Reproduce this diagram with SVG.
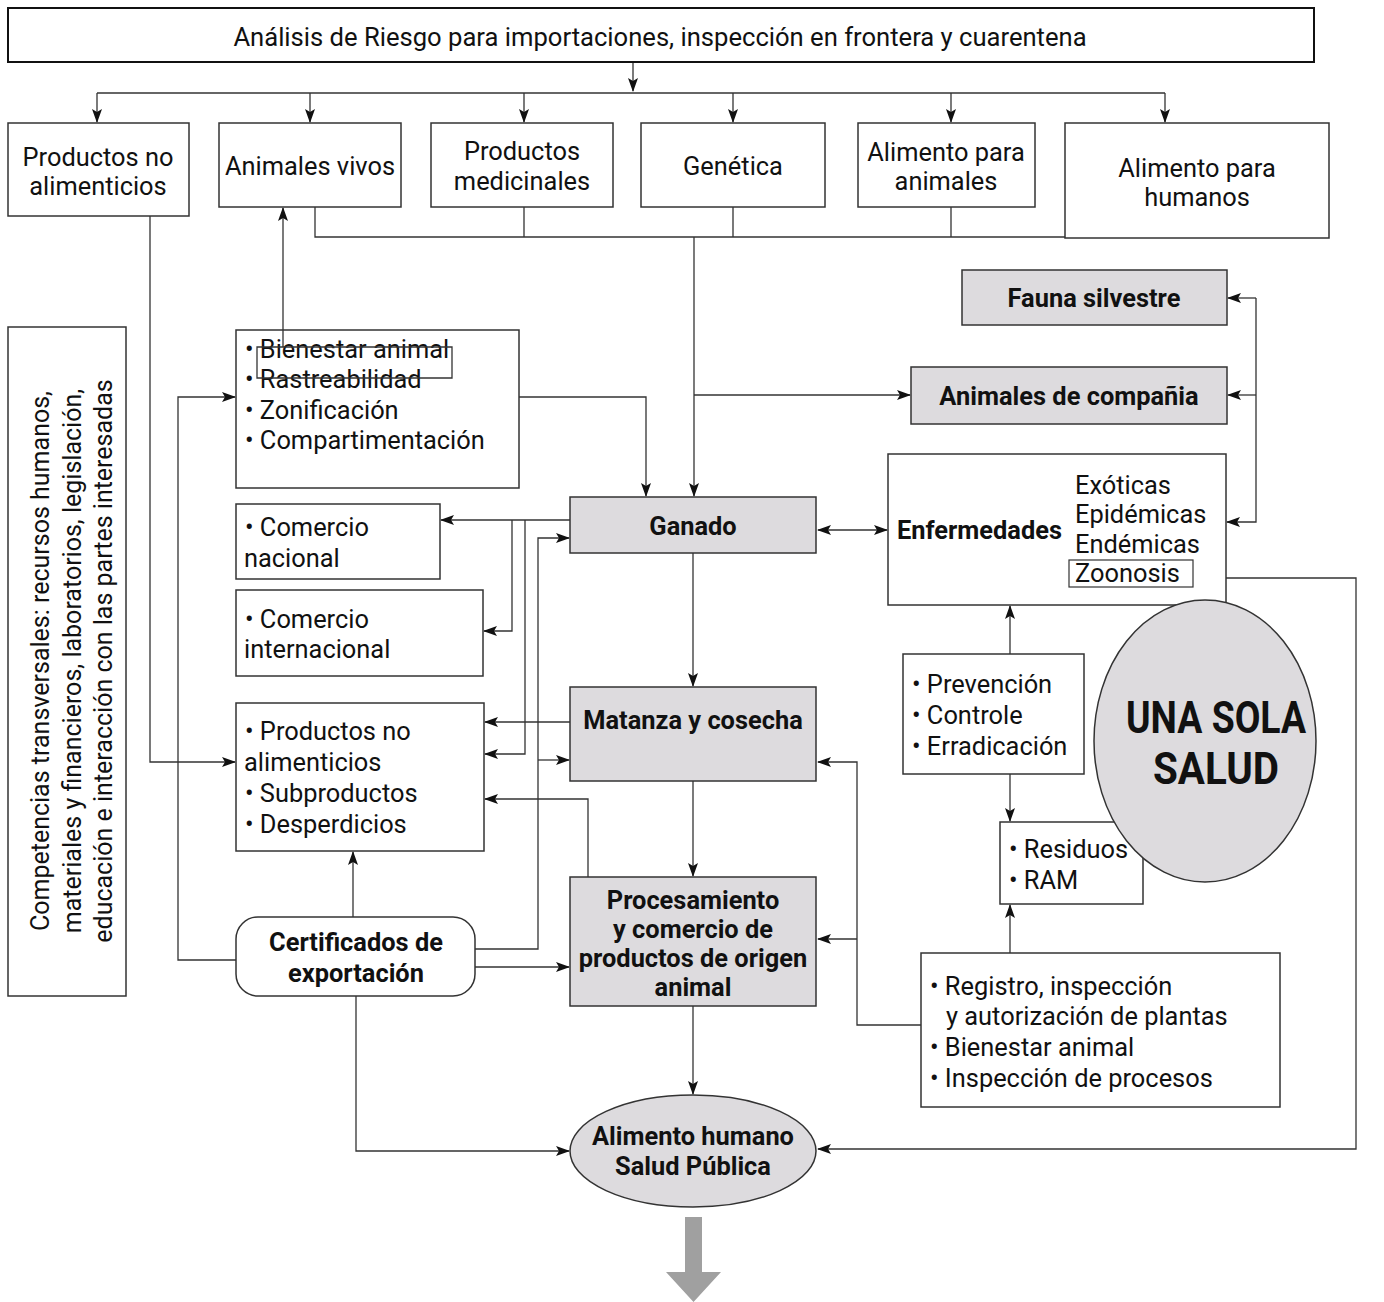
<svg xmlns="http://www.w3.org/2000/svg" width="1384" height="1302" viewBox="0 0 1384 1302">
<style>
.box{fill:#fff;stroke:#333;stroke-width:1.5}
.gbox{fill:#dddbde;stroke:#333;stroke-width:1.5}
.t{font-family:Roboto,"Liberation Sans",sans-serif;font-size:25.4px;fill:#111}
.b{font-weight:bold}
.c{text-anchor:middle}
.ln{fill:none;stroke:#333;stroke-width:1.3}
</style>
<defs>
<marker id="a" markerWidth="14" markerHeight="10" refX="13" refY="5" orient="auto-start-reverse" markerUnits="userSpaceOnUse">
<path d="M0,0 L14,5 L0,10 L3,5 z" fill="#111"/>
</marker>
</defs>
<rect width="1384" height="1302" fill="#fff"/>

<g id="connectors">
<path class="ln" d="M633,62 V91" marker-end="url(#a)"/>
<path class="ln" d="M97,93 H1165"/>
<path class="ln" d="M97,93 V122" marker-end="url(#a)"/>
<path class="ln" d="M310,93 V122" marker-end="url(#a)"/>
<path class="ln" d="M524,93 V122" marker-end="url(#a)"/>
<path class="ln" d="M733,93 V122" marker-end="url(#a)"/>
<path class="ln" d="M951,93 V122" marker-end="url(#a)"/>
<path class="ln" d="M1165,93 V122" marker-end="url(#a)"/>
<path class="ln" d="M315,207 V237 H1065 M524,207 V237 M733,207 V237 M951,207 V237"/>
<path class="ln" d="M694,237 V496" marker-end="url(#a)"/>
<path class="ln" d="M694,395 H910" marker-end="url(#a)"/>
<path class="ln" d="M150,216 V762 H235" marker-end="url(#a)"/>
<path class="ln" d="M283,347 V208" marker-end="url(#a)"/>
<path class="ln" d="M519,397 H646 V496" marker-end="url(#a)"/>
<path class="ln" d="M236,960 H178 V397 H235" marker-end="url(#a)"/>
<path class="ln" d="M570,520 H441" marker-end="url(#a)"/>
<path class="ln" d="M512,520 V631 H484" marker-end="url(#a)"/>
<path class="ln" d="M525,520 V754 H485" marker-end="url(#a)"/>
<path class="ln" d="M570,722 H485" marker-end="url(#a)"/>
<path class="ln" d="M588,877 V799 H485" marker-end="url(#a)"/>
<path class="ln" d="M475,949 H538 V538 H569" marker-end="url(#a)"/>
<path class="ln" d="M538,760 H569" marker-end="url(#a)"/>
<path class="ln" d="M353,917 V852" marker-end="url(#a)"/>
<path class="ln" d="M475,967 H569" marker-end="url(#a)"/>
<path class="ln" d="M356,996 V1151 H569" marker-end="url(#a)"/>
<path class="ln" d="M693,553 V686" marker-end="url(#a)"/>
<path class="ln" d="M693,781 V876" marker-end="url(#a)"/>
<path class="ln" d="M693,1006 V1094" marker-end="url(#a)"/>
<path class="ln" d="M818,530 H887" marker-start="url(#a)" marker-end="url(#a)"/>
<path class="ln" d="M1256,298 V522 H1227" marker-end="url(#a)"/>
<path class="ln" d="M1256,298 H1228" marker-end="url(#a)"/>
<path class="ln" d="M1256,395 H1228" marker-end="url(#a)"/>
<path class="ln" d="M1193,578 H1356 V1149 H818" marker-end="url(#a)"/>
<path class="ln" d="M1010,654 V606" marker-end="url(#a)"/>
<path class="ln" d="M1010,774 V821" marker-end="url(#a)"/>
<path class="ln" d="M1010,953 V905" marker-end="url(#a)"/>
<path class="ln" d="M921,1025 H857 V762 H818" marker-end="url(#a)"/>
<path class="ln" d="M857,939 H818" marker-end="url(#a)"/>
</g>

<g id="n-top"><rect x="8" y="8" width="1306" height="54" fill="#fff" stroke="#111" stroke-width="2"/>
<text class="t c" x="660" y="46" style="font-size:25.6px">Análisis de Riesgo para importaciones, inspección en frontera y cuarentena</text></g>

<g id="n-pna"><rect class="box" x="8" y="123" width="181" height="93"/>
<text class="t c" x="98" y="166">Productos no</text><text class="t c" x="98" y="195">alimenticios</text></g>
<g id="n-av"><rect class="box" x="219" y="123" width="182" height="84"/>
<text class="t c" x="310" y="175">Animales vivos</text></g>
<g id="n-pm"><rect class="box" x="431" y="123" width="182" height="84"/>
<text class="t c" x="522" y="160">Productos</text><text class="t c" x="522" y="190">medicinales</text></g>
<g id="n-gen"><rect class="box" x="641" y="123" width="184" height="84"/>
<text class="t c" x="733" y="175">Genética</text></g>
<g id="n-aa"><rect class="box" x="858" y="123" width="177" height="84"/>
<text class="t c" x="946" y="161">Alimento para</text><text class="t c" x="946" y="190">animales</text></g>
<g id="n-ah"><rect class="box" x="1065" y="123" width="264" height="115"/>
<text class="t c" x="1197" y="177">Alimento para</text><text class="t c" x="1197" y="206">humanos</text></g>

<g id="n-comp"><rect class="box" x="8" y="327" width="118" height="669"/>
<g transform="translate(0,661) rotate(-90)">
<text class="t c" x="0" y="49" style="font-size:25px">Competencias transversales: recursos humanos,</text>
<text class="t c" x="0" y="81" style="font-size:25px">materiales y financieros, laboratorios, legislación,</text>
<text class="t c" x="0" y="112" style="font-size:25px">educación e interacción con las partes interesadas</text>
</g></g>

<g id="n-bien"><rect class="box" x="236" y="330" width="283" height="158"/>
<text class="t" x="245" y="358">• Bienestar animal</text>
<text class="t" x="245" y="388">• Rastreabilidad</text>
<text class="t" x="245" y="419">• Zonificación</text>
<text class="t" x="245" y="449">• Compartimentación</text>
<path class="ln" d="M283,330 V347 M257,347 H452 V378 H257 Z"/></g>

<g id="n-cn"><rect class="box" x="236" y="504" width="204" height="75"/>
<text class="t" x="245" y="536">• Comercio</text><text class="t" x="244" y="567">nacional</text></g>
<g id="n-ci"><rect class="box" x="236" y="590" width="247" height="86"/>
<text class="t" x="245" y="628">• Comercio</text><text class="t" x="244" y="658">internacional</text></g>
<g id="n-pn2"><rect class="box" x="236" y="703" width="248" height="148"/>
<text class="t" x="245" y="740">• Productos no</text>
<text class="t" x="244" y="771">alimenticios</text>
<text class="t" x="245" y="802">• Subproductos</text>
<text class="t" x="245" y="833">• Desperdicios</text></g>
<g id="n-cert"><rect class="box" x="236" y="917" width="239" height="79" rx="22"/>
<text class="t b c" x="356" y="951">Certificados de</text><text class="t b c" x="356" y="982">exportación</text></g>

<g id="n-gan"><rect class="gbox" x="570" y="497" width="246" height="56"/>
<text class="t b c" x="693" y="535">Ganado</text></g>
<g id="n-mat"><rect class="gbox" x="570" y="687" width="246" height="94"/>
<text class="t b c" x="693" y="729">Matanza y cosecha</text></g>
<g id="n-proc"><rect class="gbox" x="570" y="877" width="246" height="129"/>
<text class="t b c" x="693" y="909">Procesamiento</text>
<text class="t b c" x="693" y="938">y comercio de</text>
<text class="t b c" x="693" y="967">productos de origen</text>
<text class="t b c" x="693" y="996">animal</text></g>
<g id="n-alim"><ellipse cx="693" cy="1151" rx="123" ry="56" fill="#dddbde" stroke="#333" stroke-width="1.5"/>
<text class="t b c" x="693" y="1145">Alimento humano</text><text class="t b c" x="693" y="1175">Salud Pública</text></g>

<g id="n-fauna"><rect class="gbox" x="962" y="270" width="265" height="55"/>
<text class="t b c" x="1094" y="307">Fauna silvestre</text></g>
<g id="n-compania"><rect class="gbox" x="911" y="367" width="316" height="57"/>
<text class="t b c" x="1069" y="405">Animales de compañia</text></g>
<g id="n-enf"><rect class="box" x="888" y="454" width="338" height="151"/>
<text class="t b" x="897" y="539">Enfermedades</text>
<text class="t" x="1075" y="494">Exóticas</text>
<text class="t" x="1075" y="523">Epidémicas</text>
<text class="t" x="1075" y="553">Endémicas</text>
<rect x="1069" y="560" width="124" height="27" fill="#fff" stroke="#333" stroke-width="1.2"/>
<text class="t" x="1075" y="582">Zoonosis</text></g>

<g id="n-prev"><rect class="box" x="903" y="654" width="181" height="120"/>
<text class="t" x="912" y="693">• Prevención</text>
<text class="t" x="912" y="724">• Controle</text>
<text class="t" x="912" y="755">• Erradicación</text></g>
<g id="n-res"><rect class="box" x="1000" y="822" width="143" height="82"/>
<text class="t" x="1009" y="858">• Residuos</text>
<text class="t" x="1009" y="889">• RAM</text></g>
<g id="n-una"><ellipse cx="1205" cy="741" rx="111" ry="141" fill="#dddbde" stroke="#333" stroke-width="1.5"/>
<text class="t b c" x="1216" y="733" style="font-size:44px" textLength="180" lengthAdjust="spacingAndGlyphs">UNA SOLA</text>
<text class="t b c" x="1216" y="784" style="font-size:44px" textLength="126" lengthAdjust="spacingAndGlyphs">SALUD</text></g>
<g id="n-reg"><rect class="box" x="921" y="953" width="359" height="154"/>
<text class="t" x="930" y="995">• Registro, inspección</text>
<text class="t" x="946" y="1025">y autorización de plantas</text>
<text class="t" x="930" y="1056">• Bienestar animal</text>
<text class="t" x="930" y="1087">• Inspección de procesos</text></g>

<g id="bigarrow"><polygon points="685,1217 702,1217 702,1272 721,1272 693.5,1302 666,1272 685,1272" fill="#a0a0a0"/></g>
</svg>
